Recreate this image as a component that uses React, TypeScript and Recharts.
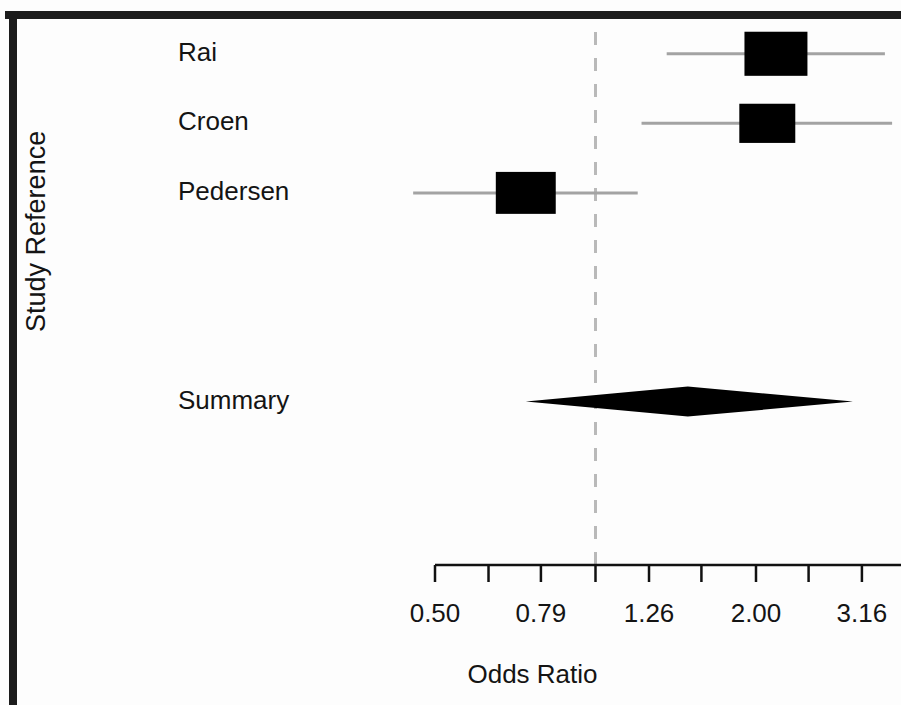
import React from 'react';
import { ComposedChart, XAxis, YAxis, Scatter, ReferenceLine, ReferenceArea } from 'recharts';

// ---- data ----
const STUDIES = ['Rai', 'Croen', 'Pedersen'];
const STUDY_ROWS = [1, 2, 3];
const ODDS_RATIOS = [2.18, 2.1, 0.74];
const CI_LOWER = [1.36, 1.22, 0.455];
const CI_UPPER = [3.49, 3.6, 1.2];
const WEIGHTS = [37.1, 29.3, 33.6];

const SUMMARY_LABEL = 'Summary';
const SUMMARY_ROW = 6;
const SUMMARY_OR = 1.49;
const SUMMARY_LOWER = 0.74;
const SUMMARY_UPPER = 3.04;

const TICK_VALUES = [0.5, 0.63, 0.79, 1.0, 1.26, 1.58, 2.0, 2.51, 3.16];
const TICK_LABELS = ['0.50', '', '0.79', '', '1.26', '', '2.00', '', '3.16'];
const NULL_EFFECT = 1;

const X_LABEL = 'Odds Ratio';
const Y_LABEL = 'Study Reference';

// ---- layout / style ----
const W = 901;
const H = 705;
const FONT = '"Liberation Sans", Arial, Helvetica, sans-serif';
const FS = 26;
const TEXT = '#141414';
const X_MIN = Math.log10(0.5);
const X_MAX = 0.573;
const Y_DOMAIN: [number, number] = [0.5, 8.35];
const BOX_SCALE = 10.34;
const BOX_ASPECT = 0.7;
const DIAMOND_HALF = 0.216;

const lg = (v: number) => Math.log10(v);

const boxData = STUDIES.map((s, i) => ({
  name: s,
  lx: lg(ODDS_RATIOS[i]),
  row: STUDY_ROWS[i],
  weight: WEIGHTS[i],
}));

const rowLabels: Record<number, string> = {};
STUDIES.forEach((s, i) => (rowLabels[STUDY_ROWS[i]] = s));
rowLabels[SUMMARY_ROW] = SUMMARY_LABEL;

const BoxShape = (props: any) => {
  const { cx, cy, payload } = props;
  const w = BOX_SCALE * Math.sqrt(payload.weight);
  const h = w * BOX_ASPECT;
  return <rect x={cx - w / 2} y={cy - h / 2} width={w} height={h} fill="#000" />;
};

const DiamondShape = (props: any) => {
  const { x, y, width, height } = props;
  const left = Math.min(x, x + width);
  const w = Math.abs(width);
  const top = Math.min(y, y + height);
  const h = Math.abs(height);
  const f = (lg(SUMMARY_OR) - lg(SUMMARY_LOWER)) / (lg(SUMMARY_UPPER) - lg(SUMMARY_LOWER));
  const pts = [
    [left, top + h / 2],
    [left + f * w, top],
    [left + w, top + h / 2],
    [left + f * w, top + h],
  ]
    .map((p) => p.join(','))
    .join(' ');
  return <polygon points={pts} fill="#000" />;
};

const RowTick = (props: any) => {
  const { x, y, payload } = props;
  return (
    <text x={x - 257} y={y} dy={7} textAnchor="start" fontSize={FS} fontFamily={FONT} fill={TEXT}>
      {rowLabels[payload.value]}
    </text>
  );
};

const YLabel = (props: any) => {
  const vb = props.viewBox || { x: 0, y: 19, width: 435, height: 546 };
  const cx = vb.x + 45;
  const cy = vb.y + vb.height * 0.389;
  return (
    <text
      x={cx}
      y={cy}
      transform={`rotate(-90 ${cx} ${cy})`}
      textAnchor="middle"
      fontSize={27}
      fontFamily={FONT}
      fill={TEXT}
    >
      {Y_LABEL}
    </text>
  );
};

const XLabel = (props: any) => {
  const vb = props.viewBox || { x: 435, y: 565, width: 466, height: 100 };
  return (
    <text x={vb.x + 97.5} y={vb.y + 118} textAnchor="middle" fontSize={FS} fontFamily={FONT} fill={TEXT}>
      {X_LABEL}
    </text>
  );
};

const tickLabel = (v: number) => {
  const i = TICK_VALUES.findIndex((t) => Math.abs(lg(t) - v) < 1e-6);
  return i >= 0 ? TICK_LABELS[i] : '';
};

export default function App() {
  return (
    <div
      style={{
        position: 'absolute',
        left: 0,
        top: 0,
        width: W,
        height: H,
        overflow: 'hidden',
        background: '#fdfdfd',
      }}
    >
      <ComposedChart width={W} height={H} margin={{ top: 19, right: 0, bottom: 40, left: 0 }}>
        <XAxis
          type="number"
          dataKey="lx"
          domain={[X_MIN, X_MAX]}
          allowDataOverflow
          ticks={TICK_VALUES.map(lg)}
          interval={0}
          tickFormatter={tickLabel}
          height={100}
          tickSize={17}
          tickMargin={21.5}
          axisLine={{ stroke: '#111', strokeWidth: 2.5 }}
          tickLine={{ stroke: '#111', strokeWidth: 2.5 }}
          tick={{ fontSize: FS, fill: TEXT, fontFamily: FONT }}
          label={{ content: XLabel }}
        />
        <YAxis
          type="number"
          dataKey="row"
          domain={Y_DOMAIN}
          allowDataOverflow
          reversed
          ticks={[...STUDY_ROWS, SUMMARY_ROW]}
          interval={0}
          width={435}
          axisLine={false}
          tickLine={false}
          tickSize={0}
          tickMargin={0}
          tick={<RowTick />}
          label={{ content: YLabel }}
        />
        <ReferenceLine
          x={lg(NULL_EFFECT)}
          stroke="#b9b9b9"
          strokeWidth={3}
          strokeDasharray="13 13"
          ifOverflow="visible"
        />
        {STUDIES.map((s, i) => (
          <ReferenceLine
            key={s}
            segment={[
              { x: lg(CI_LOWER[i]), y: STUDY_ROWS[i] },
              { x: lg(CI_UPPER[i]), y: STUDY_ROWS[i] },
            ]}
            stroke="#a3a3a3"
            strokeWidth={3}
            ifOverflow="visible"
          />
        ))}
        <Scatter data={boxData} shape={BoxShape} isAnimationActive={false} zIndex={900} />
        <ReferenceArea
          x1={lg(SUMMARY_LOWER)}
          x2={lg(SUMMARY_UPPER)}
          y1={SUMMARY_ROW - DIAMOND_HALF}
          y2={SUMMARY_ROW + DIAMOND_HALF}
          ifOverflow="visible"
          shape={DiamondShape}
          zIndex={950}
        />
      </ComposedChart>
      <div style={{ position: 'absolute', left: 5, top: 11, width: W - 5, height: 8, background: '#1c1c1c' }} />
      <div style={{ position: 'absolute', left: 9, top: 11, width: 8, height: H - 11, background: '#1c1c1c' }} />
    </div>
  );
}
